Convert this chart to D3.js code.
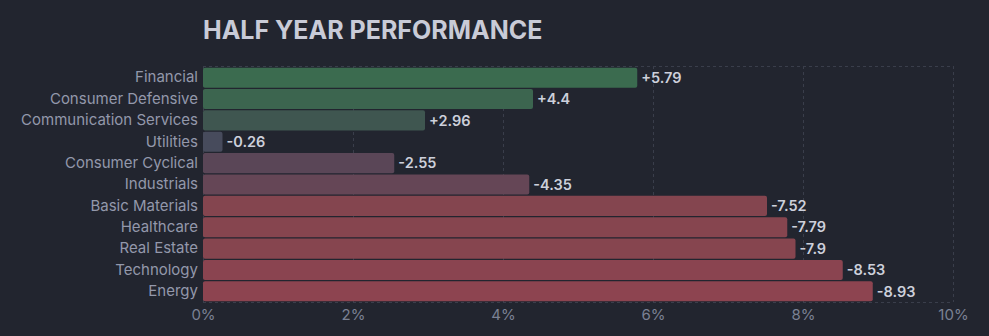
<!DOCTYPE html>
<html><head><meta charset="utf-8">
<script src="https://cdn.jsdelivr.net/npm/d3@7/dist/d3.min.js"></script>
<style>
html,body{margin:0;padding:0;background:#22252f;}
svg{display:block;}
</style></head>
<body><svg id="c" width="989" height="336"></svg>
<script>
const title = "HALF YEAR PERFORMANCE";
const categories = ["Financial","Consumer Defensive","Communication Services","Utilities","Consumer Cyclical","Industrials","Basic Materials","Healthcare","Real Estate","Technology","Energy"];
const values = [5.79, 4.4, 2.96, -0.26, -2.55, -4.35, -7.52, -7.79, -7.9, -8.53, -8.93];
const tickValues = [0, 2, 4, 6, 8, 10];

const W = 989, H = 336;
const m = {top: 66, right: 36, bottom: 34, left: 203};
const svg = d3.select("#c");
const font = "Inter, 'Noto Sans', sans-serif";

const x = d3.scaleLinear().domain([0, 10]).range([m.left, W - m.right]);
const y = d3.scaleBand().domain(categories).range([m.top + 1, H - m.bottom]).paddingInner(0.06).paddingOuter(0.03);
const color = d3.scaleLinear()
  .domain([-9, -7.5, -4.35, -2.55, -0.26, 2.96, 4.4, 5.8])
  .range(["#8d4450", "#84454f", "#654656", "#5a4657", "#474b5c", "#3f5650", "#3c654f", "#3b6b4f"]);

// grid
const grid = svg.append("g");
grid.selectAll("line.v").data(tickValues).join("line")
  .attr("x1", d => x(d) + 0.5).attr("x2", d => x(d) + 0.5)
  .attr("y1", m.top).attr("y2", H - m.bottom)
  .attr("stroke", "#3a3e4b").attr("stroke-dasharray", "3,3");
grid.selectAll("line.h").data([m.top, H - m.bottom]).join("line")
  .attr("x1", m.left).attr("x2", W - m.right)
  .attr("y1", d => d + 0.5).attr("y2", d => d + 0.5)
  .attr("stroke", "#3a3e4b").attr("stroke-dasharray", "3,3");

// bars
svg.append("g").selectAll("rect").data(categories).join("rect")
  .attr("x", x(0))
  .attr("y", c => y(c))
  .attr("width", (c, i) => x(Math.abs(values[i])) - x(0))
  .attr("height", y.bandwidth())
  .attr("rx", 2)
  .attr("fill", (c, i) => color(values[i]));

// value labels
svg.append("g").selectAll("text").data(categories).join("text")
  .attr("x", (c, i) => x(Math.abs(values[i])) + 4)
  .attr("y", c => y(c) + y.bandwidth() / 2)
  .attr("dy", "0.36em")
  .attr("fill", "#cdd0db")
  .attr("font-family", font).attr("font-size", 14.5).attr("font-weight", 600)
  .text((c, i) => (values[i] > 0 ? "+" : "") + values[i]);

// y axis
const yAxis = svg.append("g").attr("transform", `translate(${m.left - 5},0)`)
  .call(d3.axisLeft(y).tickSize(0).tickPadding(0));
yAxis.select(".domain").remove();
yAxis.selectAll("text").attr("fill", "#9398ab").attr("font-family", font).attr("font-size", 15);

// x axis
const xAxis = svg.append("g").attr("transform", `translate(0,${H - m.bottom})`)
  .call(d3.axisBottom(x).tickValues(tickValues).tickFormat(d => d + "%").tickSize(0).tickPadding(7));
xAxis.select(".domain").remove();
xAxis.selectAll("text").attr("fill", "#7b8194").attr("font-family", font).attr("font-size", 15);

// title
svg.append("text").attr("x", m.left).attr("y", 39)
  .attr("fill", "#c9cbd7").attr("font-family", font).attr("font-weight", 700).attr("font-size", 25)
  .text(title);
</script></body></html>
